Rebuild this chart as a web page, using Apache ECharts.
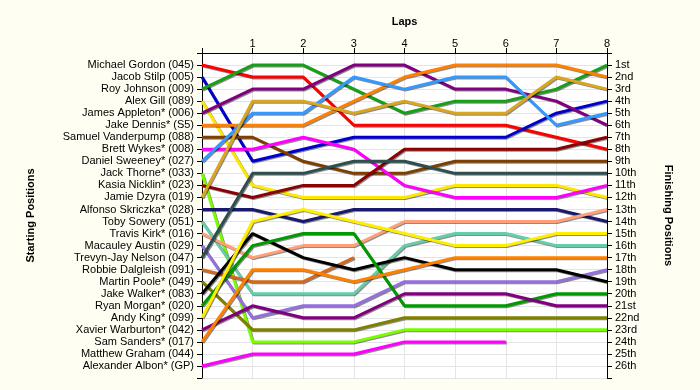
<!DOCTYPE html>
<html><head><meta charset="utf-8">
<script src="https://cdn.jsdelivr.net/npm/echarts@6/dist/echarts.min.js"></script>
<style>html,body{margin:0;padding:0;background:#FFFEF2;}#c{width:700px;height:390px;}</style>
</head><body><div id="c"></div>
<script>
const laps = [0,1,2,3,4,5,6,7,8];
const lapLabels = ['', '1','2','3','4','5','6','7','8'];
const startingNames = ['Michael Gordon (045)','Jacob Stilp (005)','Roy Johnson (009)','Alex Gill (089)','James Appleton* (006)','Jake Dennis* (S5)','Samuel Vanderpump (088)','Brett Wykes* (008)','Daniel Sweeney* (027)','Jack Thorne* (033)','Kasia Nicklin* (023)','Jamie Dzyra (019)','Alfonso Skriczka* (028)','Toby Sowery (051)','Travis Kirk* (016)','Macauley Austin (029)','Trevyn-Jay Nelson (047)','Robbie Dalgleish (091)','Martin Poole* (049)','Jake Walker* (083)','Ryan Morgan* (020)','Andy King* (099)','Xavier Warburton* (042)','Sam Sanders* (017)','Matthew Graham (044)','Alexander Albon* (GP)'];
const finishingLabels = ['1st','2nd','3rd','4th','5th','6th','7th','8th','9th','10th','11th','12th','13th','14th','15th','16th','17th','18th','19th','20th','21st','22nd','23rd','24th','25th','26th'];

// position at each lap (lap 0 = start)
const gordon    = [1,2,2,6,6,6,6,7,8];
const stilp     = [2,9,8,7,7,7,7,5,4];
const johnson   = [3,1,1,3,5,4,4,3,1];
const gill      = [4,11,12,12,12,11,11,11,12];
const appleton  = [5,3,3,1,1,3,3,4,6];
const dennis    = [6,6,6,4,2,1,1,1,2];
const vanderpump= [7,7,9,10,10,9,9,9,9];
const wykes     = [8,8,7,8,11,12,12,12,11];
const sweeney   = [9,5,5,2,3,2,2,6,5];
const thorne    = [10,24,24,24,23,23,23,23,23];
const nicklin   = [11,12,11,11,8,8,8,8,7];
const dzyra     = [12,4,4,5,4,5,5,2,3];
const skriczka  = [13,13,14,13,13,13,13,13,14];
const sowery    = [14,20,20,20,16,15,15,16,16];
const kirk      = [15,17,16,16,14,14,14,14,13];
const austin    = [16,22,21,21,19,19,19,19,18];
const nelson    = [17,10,10,9,9,10,10,10,10];
const dalgleish = [18,19,19,17];
const poole     = [19,23,23,23,22,22,22,22,22];
const walker    = [20,15,17,18,17,18,18,18,19];
const morgan    = [21,16,15,15,21,21,21,20,20];
const king      = [22,14,13,14,15,16,16,15,15];
const warburton = [23,21,22,22,20,20,20,21,21];
const sanders   = [24,18,18,19,18,17,17,17,17];
const graham    = [];
const albon     = [26,25,25,25,24,24,24];

const driverPositions = [gordon,stilp,johnson,gill,appleton,dennis,vanderpump,wykes,sweeney,thorne,nicklin,dzyra,skriczka,sowery,kirk,austin,nelson,dalgleish,poole,walker,morgan,king,warburton,sanders,graham,albon];
const driverColors = ['#FF0000','#0000CD','#17A017','#FFE800','#800080','#FF8000','#7F3F00','#FF00FF','#3399FF','#7CFC00','#8B0000','#DAA520','#191970','#66CDAA','#FFA07A','#9370DB','#2F4F4F','#D2691E','#808000','#000000','#009900','#FFEE00','#800080','#FF8000','#999999','#FF00FF'];

const series = driverPositions.map((pos, i) => ({
  type: 'line',
  name: startingNames[i],
  data: pos.map((p, k) => [laps[k], p]),
  symbol: 'none',
  lineStyle: {width: 3, color: driverColors[i], shadowColor: 'rgba(0,0,0,0.45)', shadowOffsetX: 1, shadowOffsetY: 1, shadowBlur: 0},
  itemStyle: {color: driverColors[i]},
  z: 3
}));

const font = 'Liberation Sans, Arial, sans-serif';
const chart = echarts.init(document.getElementById('c'));
chart.setOption({
  animation: false,
  backgroundColor: '#FFFEF2',
  grid: {left: 202, right: 93, top: 53, bottom: 12, show: true, backgroundColor: '#FFFFFF', borderWidth: 0},
  xAxis: {
    type: 'value', position: 'top', min: 0, max: 8, interval: 1,
    name: 'Laps', nameLocation: 'middle', nameGap: 26,
    nameTextStyle: {fontFamily: font, fontWeight: 'bold', fontSize: 11, color: '#000'},
    axisLine: {show: true, lineStyle: {color: '#000', width: 1}},
    axisTick: {show: true, length: 5, inside: false, lineStyle: {color: '#000'}},
    axisLabel: {fontFamily: font, fontSize: 11, color: '#000', margin: 4, formatter: v => lapLabels[v] || ''},
    splitLine: {show: true, lineStyle: {color: '#E4E4E4', width: 1}}
  },
  yAxis: [{
    type: 'value', position: 'left', min: 0, max: 27, interval: 1, inverse: true,
    name: 'Starting Positions', nameLocation: 'middle', nameGap: 166, nameRotate: 90,
    nameTextStyle: {fontFamily: font, fontWeight: 'bold', fontSize: 11, color: '#000'},
    axisLine: {show: true, lineStyle: {color: '#000', width: 1}},
    axisTick: {show: true, length: 5, lineStyle: {color: '#000'}},
    axisLabel: {fontFamily: font, fontSize: 11, color: '#000', margin: 8, formatter: v => startingNames[v-1] || ''},
    splitLine: {show: true, lineStyle: {color: '#E4E4E4', width: 1}}
  },{
    type: 'value', position: 'right', min: 0, max: 27, interval: 1, inverse: true,
    name: 'Finishing Positions', nameLocation: 'middle', nameGap: 56, nameRotate: -90,
    nameTextStyle: {fontFamily: font, fontWeight: 'bold', fontSize: 11, color: '#000'},
    axisLine: {show: true, lineStyle: {color: '#000', width: 1}},
    axisTick: {show: true, length: 5, lineStyle: {color: '#000'}},
    axisLabel: {fontFamily: font, fontSize: 11, color: '#000', margin: 8, formatter: v => finishingLabels[v-1] || ''},
    splitLine: {show: false}
  }],
  series: series
});
</script></body></html>
